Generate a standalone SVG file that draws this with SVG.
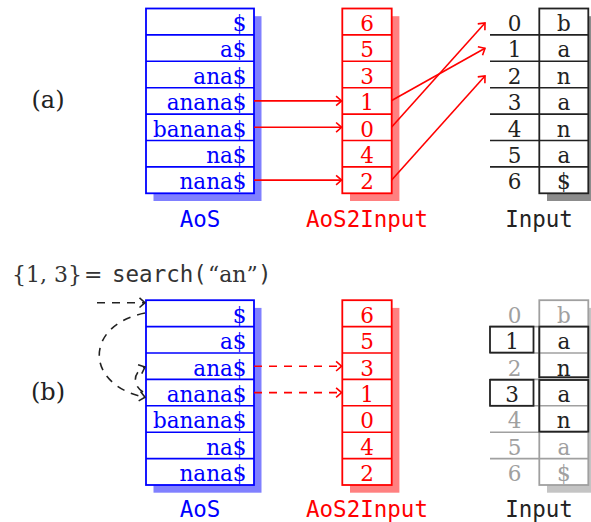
<svg xmlns="http://www.w3.org/2000/svg" width="591" height="522" viewBox="0 0 591 522">
<style>
.serif{font-family:"DejaVu Serif",serif;font-size:21.5px}
.mono{font-family:"DejaVu Sans Mono",monospace;font-size:22.5px}
.blue{fill:#0000ff}
.red{fill:#ff0000}
.dark{fill:#222222}
.grey{fill:#a0a0a0}
.bbox{fill:#ffffff;stroke:#0000ff;stroke-width:1.8}
.bline{stroke:#0000ff;stroke-width:1.6}
.rbox{fill:#ffffff;stroke:#ff0000;stroke-width:1.8}
.rline{stroke:#ff0000;stroke-width:1.6}
.kbox{fill:#ffffff;stroke:#222222;stroke-width:1.8}
.kline{stroke:#222222;stroke-width:1.6}
.gbox{fill:#ffffff;stroke:#a0a0a0;stroke-width:1.8}
.gline{stroke:#a0a0a0;stroke-width:1.6}
.hl{fill:none;stroke:#222222;stroke-width:1.8}
.ra{fill:none;stroke:#ff0000;stroke-width:1.6;marker-end:url(#ahr)}
.rd{fill:none;stroke:#ff0000;stroke-width:1.6;stroke-dasharray:8 7;marker-end:url(#ahr)}
.kd{fill:none;stroke:#222222;stroke-width:1.6;stroke-dasharray:8 7;marker-end:url(#ahk)}
</style>
<defs>
<marker id="ahr" viewBox="-7 -6 9 12" refX="0" refY="0" markerWidth="9" markerHeight="12" markerUnits="userSpaceOnUse" orient="auto"><path d="M -5.5 -4.8 Q -1.5 -1.3 0 0 Q -1.5 1.3 -5.5 4.8" fill="none" stroke="#ff0000" stroke-width="1.6" stroke-dasharray="none"/></marker>
<marker id="ahk" viewBox="-7 -6 9 12" refX="0" refY="0" markerWidth="9" markerHeight="12" markerUnits="userSpaceOnUse" orient="auto"><path d="M -5.5 -4.8 Q -1.5 -1.3 0 0 Q -1.5 1.3 -5.5 4.8" fill="none" stroke="#222222" stroke-width="1.6" stroke-dasharray="none"/></marker>
</defs>

<g id="label-a"><text class="serif dark" x="48" y="108" text-anchor="middle" style="font-size:24px">(a)</text></g>
<g id="label-b"><text class="serif dark" x="48" y="400" text-anchor="middle" style="font-size:24px">(b)</text></g>

<!-- top AoS -->
<g id="aos-top">
<rect x="153.5" y="16.2" width="108" height="184.8" fill="#8080ff"/>
<rect class="bbox" x="146" y="8.5" width="108" height="184.8"/>
<line class="bline" x1="146" y1="34.9" x2="254" y2="34.9"/>
<line class="bline" x1="146" y1="61.3" x2="254" y2="61.3"/>
<line class="bline" x1="146" y1="87.7" x2="254" y2="87.7"/>
<line class="bline" x1="146" y1="114.1" x2="254" y2="114.1"/>
<line class="bline" x1="146" y1="140.5" x2="254" y2="140.5"/>
<line class="bline" x1="146" y1="166.9" x2="254" y2="166.9"/>
<g class="serif blue" text-anchor="end">
<text x="246.5" y="31">$</text>
<text x="246.5" y="57.4">a$</text>
<text x="246.5" y="83.8">ana$</text>
<text x="246.5" y="110.2">anana$</text>
<text x="246.5" y="136.6">banana$</text>
<text x="246.5" y="163">na$</text>
<text x="246.5" y="189.4">nana$</text>
</g>
<text class="mono blue" x="200" y="226.5" text-anchor="middle">AoS</text>
</g>

<!-- top AoS2Input -->
<g id="aos2input-top">
<rect x="350" y="16.2" width="49.4" height="184.8" fill="#ff8080"/>
<rect class="rbox" x="342.3" y="8.5" width="49.4" height="184.8"/>
<line class="rline" x1="342.3" y1="34.9" x2="391.7" y2="34.9"/>
<line class="rline" x1="342.3" y1="61.3" x2="391.7" y2="61.3"/>
<line class="rline" x1="342.3" y1="87.7" x2="391.7" y2="87.7"/>
<line class="rline" x1="342.3" y1="114.1" x2="391.7" y2="114.1"/>
<line class="rline" x1="342.3" y1="140.5" x2="391.7" y2="140.5"/>
<line class="rline" x1="342.3" y1="166.9" x2="391.7" y2="166.9"/>
<g class="serif red" text-anchor="middle">
<text x="367" y="31">6</text>
<text x="367" y="57.4">5</text>
<text x="367" y="83.8">3</text>
<text x="367" y="110.2">1</text>
<text x="367" y="136.6">0</text>
<text x="367" y="163">4</text>
<text x="367" y="189.4">2</text>
</g>
<text class="mono red" x="367" y="226.5" text-anchor="middle">AoS2Input</text>
</g>

<!-- top Input -->
<g id="input-top">
<rect x="547" y="16.2" width="49" height="184.8" fill="#8c8c8c"/>
<rect class="kbox" x="539.3" y="8.5" width="49" height="184.8"/>
<line class="kline" x1="490" y1="34.9" x2="588.3" y2="34.9"/>
<line class="kline" x1="490" y1="61.3" x2="588.3" y2="61.3"/>
<line class="kline" x1="490" y1="87.7" x2="588.3" y2="87.7"/>
<line class="kline" x1="490" y1="114.1" x2="588.3" y2="114.1"/>
<line class="kline" x1="490" y1="140.5" x2="588.3" y2="140.5"/>
<line class="kline" x1="490" y1="166.9" x2="588.3" y2="166.9"/>
<g class="serif dark" text-anchor="middle">
<text x="514.5" y="31">0</text>
<text x="514.5" y="57.4">1</text>
<text x="514.5" y="83.8">2</text>
<text x="514.5" y="110.2">3</text>
<text x="514.5" y="136.6">4</text>
<text x="514.5" y="163">5</text>
<text x="514.5" y="189.4">6</text>
<text x="563.8" y="31">b</text>
<text x="563.8" y="57.4">a</text>
<text x="563.8" y="83.8">n</text>
<text x="563.8" y="110.2">a</text>
<text x="563.8" y="136.6">n</text>
<text x="563.8" y="163">a</text>
<text x="563.8" y="189.4">$</text>
</g>
<text class="mono dark" x="539" y="226.5" text-anchor="middle">Input</text>
</g>

<!-- query text -->
<g id="query">
<text class="serif" fill="#333333" y="282" style="font-size:22px"><tspan x="12">{1, 3}</tspan><tspan x="84">=</tspan><tspan class="mono" x="112">search(</tspan><tspan x="208">“an”</tspan><tspan class="mono" x="258">)</tspan></text>
</g>

<!-- bottom AoS -->
<g id="aos-bottom">
<rect x="153.5" y="307.9" width="108" height="184.8" fill="#8080ff"/>
<rect class="bbox" x="146" y="300.2" width="108" height="184.8"/>
<line class="bline" x1="146" y1="326.6" x2="254" y2="326.6"/>
<line class="bline" x1="146" y1="353" x2="254" y2="353"/>
<line class="bline" x1="146" y1="379.4" x2="254" y2="379.4"/>
<line class="bline" x1="146" y1="405.8" x2="254" y2="405.8"/>
<line class="bline" x1="146" y1="432.2" x2="254" y2="432.2"/>
<line class="bline" x1="146" y1="458.6" x2="254" y2="458.6"/>
<g class="serif blue" text-anchor="end">
<text x="246.5" y="322.7">$</text>
<text x="246.5" y="349.1">a$</text>
<text x="246.5" y="375.5">ana$</text>
<text x="246.5" y="401.9">anana$</text>
<text x="246.5" y="428.3">banana$</text>
<text x="246.5" y="454.7">na$</text>
<text x="246.5" y="481.1">nana$</text>
</g>
<text class="mono blue" x="200" y="516.5" text-anchor="middle">AoS</text>
</g>

<!-- bottom AoS2Input -->
<g id="aos2input-bottom">
<rect x="350" y="307.9" width="49.4" height="184.8" fill="#ff8080"/>
<rect class="rbox" x="342.3" y="300.2" width="49.4" height="184.8"/>
<line class="rline" x1="342.3" y1="326.6" x2="391.7" y2="326.6"/>
<line class="rline" x1="342.3" y1="353" x2="391.7" y2="353"/>
<line class="rline" x1="342.3" y1="379.4" x2="391.7" y2="379.4"/>
<line class="rline" x1="342.3" y1="405.8" x2="391.7" y2="405.8"/>
<line class="rline" x1="342.3" y1="432.2" x2="391.7" y2="432.2"/>
<line class="rline" x1="342.3" y1="458.6" x2="391.7" y2="458.6"/>
<g class="serif red" text-anchor="middle">
<text x="367" y="322.7">6</text>
<text x="367" y="349.1">5</text>
<text x="367" y="375.5">3</text>
<text x="367" y="401.9">1</text>
<text x="367" y="428.3">0</text>
<text x="367" y="454.7">4</text>
<text x="367" y="481.1">2</text>
</g>
<text class="mono red" x="367" y="516.5" text-anchor="middle">AoS2Input</text>
</g>

<!-- bottom Input -->
<g id="input-bottom">
<rect x="547" y="307.9" width="49" height="184.8" fill="#c4c4c4"/>
<rect class="gbox" x="539.3" y="300.2" width="49" height="184.8"/>
<line class="gline" x1="490" y1="326.6" x2="588.3" y2="326.6"/>
<line class="gline" x1="490" y1="353" x2="588.3" y2="353"/>
<line class="gline" x1="490" y1="379.4" x2="588.3" y2="379.4"/>
<line class="gline" x1="490" y1="405.8" x2="588.3" y2="405.8"/>
<line class="gline" x1="490" y1="432.2" x2="588.3" y2="432.2"/>
<line class="gline" x1="490" y1="458.6" x2="588.3" y2="458.6"/>
<rect class="hl" x="490" y="326.6" width="43.5" height="26"/>
<rect class="hl" x="490" y="379.8" width="43.5" height="26"/>
<rect class="hl" x="539.3" y="326.6" width="49" height="50.6"/>
<rect class="hl" x="539.3" y="380" width="49" height="51.6"/>
<g class="serif" text-anchor="middle">
<text class="grey" x="514.5" y="322.7">0</text>
<text class="dark" x="512" y="349.1">1</text>
<text class="grey" x="514.5" y="375.5">2</text>
<text class="dark" x="512" y="401.9">3</text>
<text class="grey" x="514.5" y="428.3">4</text>
<text class="grey" x="514.5" y="454.7">5</text>
<text class="grey" x="514.5" y="481.1">6</text>
<text class="grey" x="563.8" y="322.7">b</text>
<text class="dark" x="563.8" y="349.1">a</text>
<text class="dark" x="563.8" y="375.5">n</text>
<text class="dark" x="563.8" y="401.9">a</text>
<text class="dark" x="563.8" y="428.3">n</text>
<text class="grey" x="563.8" y="454.7">a</text>
<text class="grey" x="563.8" y="481.1">$</text>
</g>
<text class="mono dark" x="539" y="516.5" text-anchor="middle">Input</text>
</g>

<!-- connectors -->
<g id="connectors">
<line class="ra" x1="254" y1="100.9" x2="341.6" y2="100.9"/>
<line class="ra" x1="254" y1="127.3" x2="341.6" y2="127.3"/>
<line class="ra" x1="254" y1="180.1" x2="341.6" y2="180.1"/>
<line class="ra" x1="391.7" y1="100.5" x2="485" y2="48.3"/>
<line class="ra" x1="391.7" y1="127" x2="485" y2="23"/>
<line class="ra" x1="391.7" y1="180" x2="485" y2="76"/>
<line class="rd" x1="254" y1="366.2" x2="341.6" y2="366.2"/>
<line class="rd" x1="254" y1="392.6" x2="341.6" y2="392.6"/>
<line class="kd" x1="97" y1="302.7" x2="145" y2="302.7"/>
<path class="kd" d="M 145 313 C 84 325, 84 385, 145 397.3"/>
<path class="kd" d="M 143 392 C 132 385, 133 372, 145 367"/>
</g>
</svg>
